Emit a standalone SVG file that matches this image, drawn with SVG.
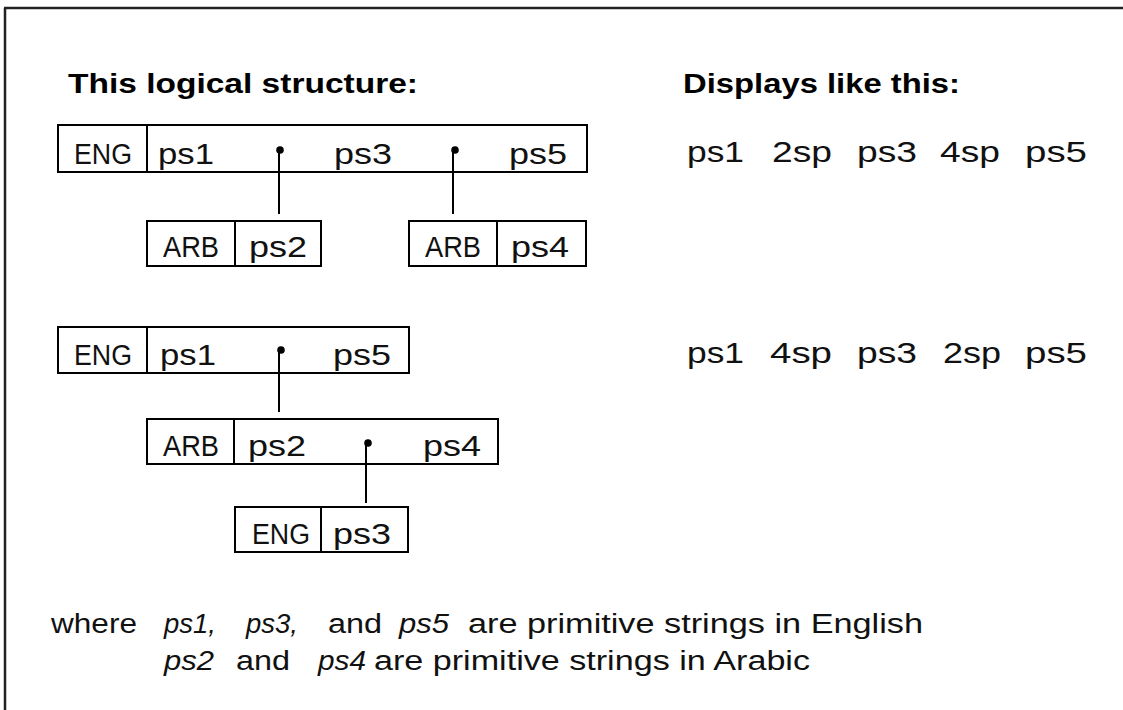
<svg xmlns="http://www.w3.org/2000/svg" width="1123" height="710" viewBox="0 0 1123 710">
  <style>
    .frame { stroke: #222; stroke-width: 2.5; fill: none; }
    .box { fill: #fff; stroke: #000; stroke-width: 2; }
    .div { stroke: #000; stroke-width: 2; }
    .link { stroke: #000; stroke-width: 2; fill: none; }
    .dot { fill: #000; }
    .title { font-family: "Liberation Sans", Arial, sans-serif; font-weight: bold; font-size: 28px; fill: #000; }
    .cell { font-family: "Liberation Sans", Arial, sans-serif; font-size: 30px; fill: #111; }
    .note { font-family: "Liberation Sans", Arial, sans-serif; font-size: 27px; fill: #111; }
    .it { font-style: italic; }
  </style>

  <rect width="1123" height="710" fill="#fff"/>
  <path class="frame" d="M4 8 H1123 M5 8 V710"/>

  <g id="titles">
    <text class="title" x="68" y="93" textLength="350" lengthAdjust="spacingAndGlyphs">This logical structure:</text>
    <text class="title" x="683" y="93" textLength="277" lengthAdjust="spacingAndGlyphs">Displays like this:</text>
  </g>

  <!-- example 1: ENG run with two embedded ARB runs -->
  <g id="eng1">
    <rect class="box" x="58" y="125" width="529" height="47"/>
    <line class="div" x1="147" y1="125" x2="147" y2="172"/>
    <text class="cell" x="74" y="164" textLength="58" lengthAdjust="spacingAndGlyphs">ENG</text>
    <text class="cell" x="158" y="164" textLength="56" lengthAdjust="spacingAndGlyphs">ps1</text>
    <text class="cell" x="334" y="164" textLength="58" lengthAdjust="spacingAndGlyphs">ps3</text>
    <text class="cell" x="509" y="164" textLength="58" lengthAdjust="spacingAndGlyphs">ps5</text>
  </g>
  <g id="arb1">
    <rect class="box" x="147" y="221" width="174" height="45"/>
    <line class="div" x1="235" y1="221" x2="235" y2="266"/>
    <text class="cell" x="163" y="257" textLength="56" lengthAdjust="spacingAndGlyphs">ARB</text>
    <text class="cell" x="249" y="257" textLength="58" lengthAdjust="spacingAndGlyphs">ps2</text>
  </g>
  <g id="arb2">
    <rect class="box" x="409" y="221" width="177" height="45"/>
    <line class="div" x1="497" y1="221" x2="497" y2="266"/>
    <text class="cell" x="425" y="257" textLength="56" lengthAdjust="spacingAndGlyphs">ARB</text>
    <text class="cell" x="511" y="257" textLength="58" lengthAdjust="spacingAndGlyphs">ps4</text>
  </g>

  <!-- example 2: ENG run > ARB run > ENG run -->
  <g id="eng2">
    <rect class="box" x="58" y="327" width="351" height="46"/>
    <line class="div" x1="147" y1="327" x2="147" y2="373"/>
    <text class="cell" x="74" y="365" textLength="58" lengthAdjust="spacingAndGlyphs">ENG</text>
    <text class="cell" x="160" y="365" textLength="56" lengthAdjust="spacingAndGlyphs">ps1</text>
    <text class="cell" x="333" y="365" textLength="58" lengthAdjust="spacingAndGlyphs">ps5</text>
  </g>
  <g id="arb3">
    <rect class="box" x="147" y="419" width="351" height="45"/>
    <line class="div" x1="234" y1="419" x2="234" y2="464"/>
    <text class="cell" x="163" y="456" textLength="56" lengthAdjust="spacingAndGlyphs">ARB</text>
    <text class="cell" x="248" y="456" textLength="58" lengthAdjust="spacingAndGlyphs">ps2</text>
    <text class="cell" x="423" y="456" textLength="58" lengthAdjust="spacingAndGlyphs">ps4</text>
  </g>
  <g id="eng3">
    <rect class="box" x="235" y="507" width="173" height="45"/>
    <line class="div" x1="321" y1="507" x2="321" y2="552"/>
    <text class="cell" x="252" y="544" textLength="58" lengthAdjust="spacingAndGlyphs">ENG</text>
    <text class="cell" x="333" y="544" textLength="58" lengthAdjust="spacingAndGlyphs">ps3</text>
  </g>

  <g id="connectors">
    <circle class="dot" cx="280" cy="150" r="3.8"/>
    <path class="link" d="M279 150 V214"/>
    <circle class="dot" cx="455" cy="150" r="3.8"/>
    <path class="link" d="M453 150 V214"/>
    <circle class="dot" cx="281" cy="350" r="3.8"/>
    <path class="link" d="M279 350 V412"/>
    <circle class="dot" cx="368" cy="443" r="3.8"/>
    <path class="link" d="M366 443 V503"/>
  </g>

  <g id="display">
    <text class="cell" x="687" y="162" textLength="57" lengthAdjust="spacingAndGlyphs">ps1</text>
    <text class="cell" x="772" y="162" textLength="60" lengthAdjust="spacingAndGlyphs">2sp</text>
    <text class="cell" x="857" y="162" textLength="60" lengthAdjust="spacingAndGlyphs">ps3</text>
    <text class="cell" x="940" y="162" textLength="60" lengthAdjust="spacingAndGlyphs">4sp</text>
    <text class="cell" x="1025" y="162" textLength="62" lengthAdjust="spacingAndGlyphs">ps5</text>

    <text class="cell" x="687" y="363" textLength="57" lengthAdjust="spacingAndGlyphs">ps1</text>
    <text class="cell" x="770" y="363" textLength="62" lengthAdjust="spacingAndGlyphs">4sp</text>
    <text class="cell" x="857" y="363" textLength="60" lengthAdjust="spacingAndGlyphs">ps3</text>
    <text class="cell" x="943" y="363" textLength="58" lengthAdjust="spacingAndGlyphs">2sp</text>
    <text class="cell" x="1025" y="363" textLength="62" lengthAdjust="spacingAndGlyphs">ps5</text>
  </g>

  <g id="legend">
    <text class="note" x="51" y="633" textLength="86" lengthAdjust="spacingAndGlyphs">where</text>
    <text class="note it" x="164" y="633" textLength="52" lengthAdjust="spacingAndGlyphs">ps1,</text>
    <text class="note it" x="246" y="633" textLength="52" lengthAdjust="spacingAndGlyphs">ps3,</text>
    <text class="note" x="328" y="633" textLength="54" lengthAdjust="spacingAndGlyphs">and</text>
    <text class="note it" x="399" y="633" textLength="50" lengthAdjust="spacingAndGlyphs">ps5</text>
    <text class="note" x="468" y="633" textLength="455" lengthAdjust="spacingAndGlyphs">are primitive strings in English</text>

    <text class="note it" x="164" y="670" textLength="50" lengthAdjust="spacingAndGlyphs">ps2</text>
    <text class="note" x="236" y="670" textLength="54" lengthAdjust="spacingAndGlyphs">and</text>
    <text class="note it" x="318" y="670" textLength="48" lengthAdjust="spacingAndGlyphs">ps4</text>
    <text class="note" x="374" y="670" textLength="436" lengthAdjust="spacingAndGlyphs">are primitive strings in Arabic</text>
  </g>
</svg>
